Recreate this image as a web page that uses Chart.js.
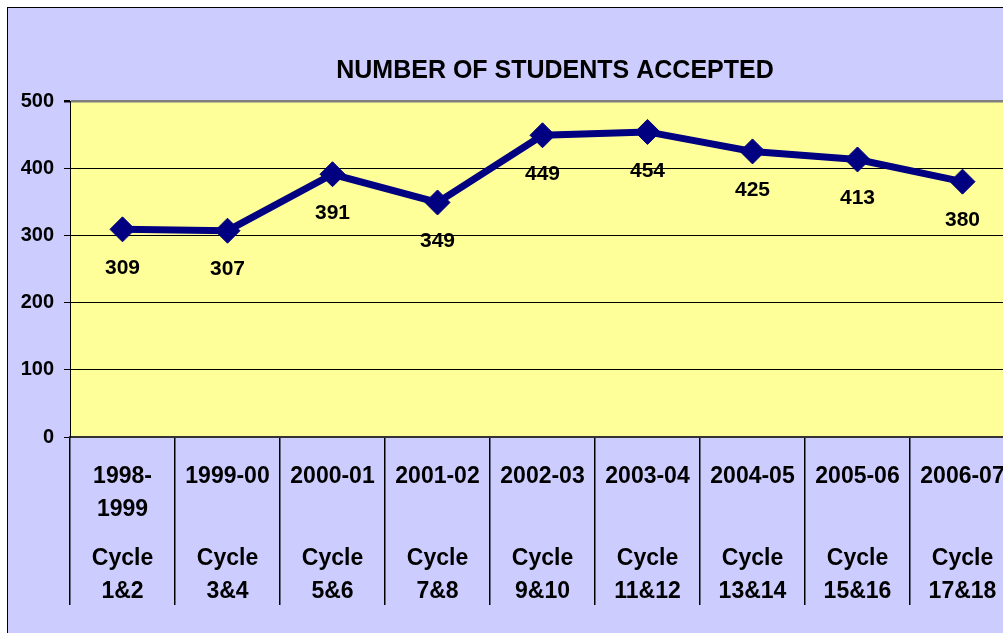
<!DOCTYPE html>
<html>
<head>
<meta charset="utf-8">
<script src="https://cdn.jsdelivr.net/npm/chart.js@4"></script>
<style>
  html, body { margin: 0; padding: 0; background: #fff; overflow: hidden; }
  #box {
    position: absolute; left: 7px; top: 7px;
    width: 1200px; height: 700px;
    background: #ccccff; border: 1px solid #000;
  }
  #wrap { position: absolute; left: 0; top: 0; width: 1110px; height: 633px; }
</style>
</head>
<body>
<div id="box"></div>
<div id="wrap"><canvas id="myChart"></canvas></div>
<script>
// データ
const yearLabels = [['1998-', '1999'], ['1999-00'], ['2000-01'], ['2001-02'], ['2002-03'],
  ['2003-04'], ['2004-05'], ['2005-06'], ['2006-07']];
const cycleLabels = ['1&2', '3&4', '5&6', '7&8', '9&10', '11&12', '13&14', '15&16', '17&18'];
const accepted = [309, 307, 391, 349, 449, 454, 425, 413, 380];
const yTicks = [0, 100, 200, 300, 400, 500];

const FONT = "'Liberation Sans', Arial, sans-serif";

// ラベル（空行で行間を調整）
const labels = yearLabels.map((y, i) => [y[0], '', y[1] || '', '', '', 'Cycle', '', cycleLabels[i]]);

// プロットエリア背景
const plotBg = {
  id: 'plotBg',
  beforeDraw(chart) {
    const { ctx, chartArea: a } = chart;
    ctx.save();
    ctx.fillStyle = '#ffff99';
    ctx.fillRect(a.left, a.top, a.right - a.left, a.bottom - a.top);
    ctx.restore();
  }
};

// データラベル
const valueLabels = {
  id: 'valueLabels',
  afterDatasetsDraw(chart) {
    const ctx = chart.ctx;
    const meta = chart.getDatasetMeta(0);
    ctx.save();
    ctx.font = `bold 21px ${FONT}`;
    ctx.fillStyle = '#000';
    ctx.textAlign = 'center';
    ctx.textBaseline = 'middle';
    meta.data.forEach((pt, i) => {
      ctx.fillText(String(accepted[i]), pt.x, pt.y + 39);
    });
    ctx.restore();
  }
};

new Chart(document.getElementById('myChart'), {
  type: 'line',
  data: {
    labels: labels,
    datasets: [{
      data: accepted,
      borderColor: '#000080',
      borderWidth: 7,
      tension: 0,
      pointStyle: 'rectRot',
      pointRadius: 12.5,
      pointBackgroundColor: '#000080',
      pointBorderColor: '#000080',
      pointBorderWidth: 1
    }]
  },
  options: {
    responsive: true,
    maintainAspectRatio: false,
    animation: false,
    layout: { padding: 0 },
    plugins: {
      legend: { display: false },
      tooltip: { enabled: false },
      title: {
        display: true,
        text: 'NUMBER OF STUDENTS ACCEPTED',
        color: '#000',
        font: { family: FONT, size: 25, weight: 'bold', lineHeight: 1.2 },
        padding: { top: 56.3, bottom: 14.7 }
      }
    },
    scales: {
      x: {
        offset: true,
        grid: {
          offset: true,
          drawOnChartArea: false,
          tickLength: 168,
          color: '#000',
          lineWidth: 1.5
        },
        border: { color: '#333', width: 2 },
        ticks: {
          color: '#000',
          padding: -136.75,
          maxRotation: 0,
          autoSkip: false,
          font: { family: FONT, size: 23, weight: 'bold', lineHeight: '16.5px' }
        },
        afterFit: s => { s.height = 196; }
      },
      y: {
        min: 0,
        max: 500,
        afterBuildTicks: s => { s.ticks = yTicks.map(v => ({ value: v })); },
        grid: {
          color: c => c.tick && c.tick.value === 500 ? '#808080' : '#000',
          lineWidth: c => c.tick && c.tick.value === 500 ? 2.5 : 1,
          tickColor: '#000',
          tickLength: 6
        },
        border: { color: '#000', width: 1 },
        ticks: {
          color: '#000',
          padding: 10,
          font: { family: FONT, size: 20, weight: 'bold' }
        },
        afterFit: s => { s.width = 70; }
      },
      y2: {
        position: 'right',
        display: true,
        grid: { display: false },
        border: { display: false },
        ticks: { display: false },
        afterFit: s => { s.width = 95; }
      }
    }
  },
  plugins: [plotBg, valueLabels]
});
</script>
</body>
</html>
